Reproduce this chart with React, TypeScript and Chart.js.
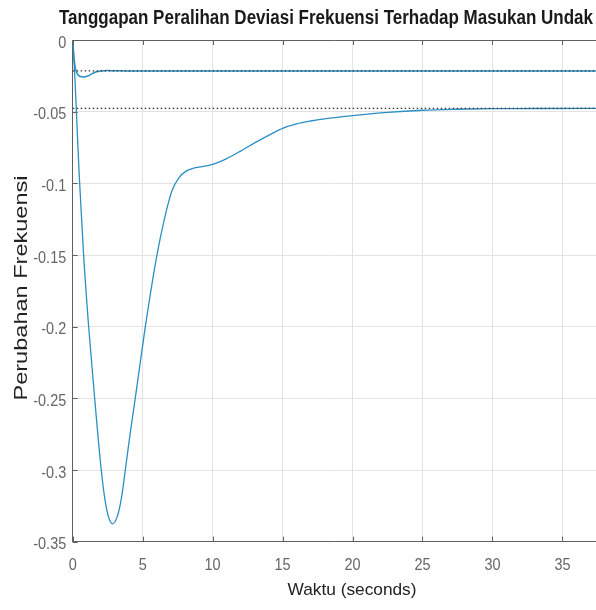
import { useEffect, useRef } from 'react';
import { Chart, registerables } from 'chart.js';

Chart.register(...registerables);

const TITLE = 'Tanggapan Peralihan Deviasi Frekuensi Terhadap Masukan Undak';
const X_TITLE = 'Waktu (seconds)';
const Y_TITLE = 'Perubahan Frekuensi';

const X_MIN = 0;
const X_MAX = 37.4;
const Y_MIN = -0.35;
const Y_MAX = 0;

const xTicks = [0, 5, 10, 15, 20, 25, 30, 35];
const yTicks = [0, -0.05, -0.1, -0.15, -0.2, -0.25, -0.3, -0.35];

// Large response
const timeBig = [0, 0.15, 0.3, 0.47, 0.78, 1.14, 1.57, 2.04, 2.3, 2.57, 2.85, 3.2, 3.5, 3.76, 4.1, 4.47, 5.19, 6.02, 6.6, 7.1, 7.6, 8.1, 8.6, 9.0, 10, 11, 12, 13, 14, 15, 16, 17, 18, 20, 22.5, 25, 27.5, 30, 33, 37.4];
const valuesBig = [0, -0.025, -0.058, -0.095, -0.15, -0.2, -0.25, -0.3, -0.3203, -0.333, -0.3375, -0.332, -0.3185, -0.3, -0.275, -0.25, -0.2, -0.15, -0.123, -0.105, -0.096, -0.0915, -0.0895, -0.0887, -0.0868, -0.0828, -0.0775, -0.0718, -0.0665, -0.0616, -0.0585, -0.0565, -0.055, -0.0528, -0.0505, -0.049, -0.0483, -0.0479, -0.0478, -0.0477];

// Small response
const timeSmall = [0, 0.1, 0.2, 0.35, 0.55, 0.8, 1.1, 1.4, 1.7, 2.0, 2.5, 3.0, 4.0, 37.4];
const valuesSmall = [0, -0.013, -0.02, -0.024, -0.0255, -0.0258, -0.025, -0.0235, -0.0222, -0.0216, -0.0213, -0.0215, -0.0216, -0.0216];

// Steady-state values (dotted)
const steadyStates = [-0.0216, -0.0477];

const BLUE = '#2a8fc4';
const SANS = '"Liberation Sans", Arial, sans-serif';

function fmt(v: number): string {
  const r = Math.round(v * 100) / 100;
  if (r === 0) return '0';
  return String(r);
}

function fitText(ctx: CanvasRenderingContext2D, text: string, x: number, y: number, targetW: number, rotate = 0) {
  const w = ctx.measureText(text).width;
  const s = targetW / w;
  ctx.save();
  ctx.translate(x, y);
  if (rotate) ctx.rotate(rotate);
  ctx.scale(s, 1);
  ctx.textAlign = 'center';
  ctx.textBaseline = 'alphabetic';
  ctx.fillText(text, 0, 0);
  ctx.restore();
}

function squeezed(ctx: CanvasRenderingContext2D, text: string, x: number, y: number, align: CanvasTextAlign, sx: number) {
  ctx.save();
  ctx.translate(x, y);
  ctx.scale(sx, 1);
  ctx.textAlign = align;
  ctx.textBaseline = 'alphabetic';
  ctx.fillText(text, 0, 0);
  ctx.restore();
}

const decorPlugin = {
  id: 'decor',
  beforeDraw(chart: any) {
    const ctx = chart.ctx;
    ctx.save();
    ctx.fillStyle = '#ffffff';
    ctx.fillRect(0, 0, chart.width, chart.height);
    ctx.restore();
  },
  afterDraw(chart: any) {
    const ctx: CanvasRenderingContext2D = chart.ctx;
    const { left, right, top, bottom } = chart.chartArea;
    const xs = chart.scales.x;
    const ys = chart.scales.y;
    ctx.save();
    ctx.strokeStyle = '#606060';
    ctx.lineWidth = 1;
    ctx.beginPath();
    ctx.moveTo(left, Math.round(top) + 0.5);
    ctx.lineTo(right, Math.round(top) + 0.5);
    for (const t of xs.ticks) {
      const px = Math.round(xs.getPixelForValue(t.value)) + 0.5;
      ctx.moveTo(px, bottom);
      ctx.lineTo(px, bottom - 5);
      ctx.moveTo(px, top);
      ctx.lineTo(px, top + 5);
    }
    for (const t of ys.ticks) {
      const py = Math.round(ys.getPixelForValue(t.value)) + 0.5;
      ctx.moveTo(left, py);
      ctx.lineTo(left + 5, py);
    }
    ctx.stroke();

    // tick labels from the scales' ticks
    ctx.fillStyle = '#666666';
    ctx.font = `17px ${SANS}`;
    for (const t of xs.ticks) {
      squeezed(ctx, String(t.value), xs.getPixelForValue(t.value), 569.5, 'center', 0.85);
    }
    for (const t of ys.ticks) {
      squeezed(ctx, fmt(t.value), left - 6.5, ys.getPixelForValue(t.value) + 7.5, 'right', 0.85);
    }

    ctx.fillStyle = '#1a1a1a';
    ctx.font = `bold 20px ${SANS}`;
    fitText(ctx, TITLE, 326, 24, 534);

    ctx.fillStyle = '#222222';
    ctx.font = `17px ${SANS}`;
    fitText(ctx, X_TITLE, 352, 595, 129);

    ctx.font = `19px ${SANS}`;
    fitText(ctx, Y_TITLE, 27, 288, 225, -Math.PI / 2);
    ctx.restore();
  },
};

export default function App() {
  const ref = useRef<HTMLCanvasElement>(null);
  useEffect(() => {
    document.body.style.margin = '0';
    const big = timeBig.map((t, i) => ({ x: t, y: valuesBig[i] }));
    const small = timeSmall.map((t, i) => ({ x: t, y: valuesSmall[i] }));
    const steadyDs = steadyStates.map((ss) => ({
      label: 'steady',
      data: [{ x: X_MIN, y: ss }, { x: X_MAX, y: ss }],
      borderColor: '#333333',
      borderWidth: 1.3,
      borderDash: [1.5, 2.5],
      pointRadius: 0,
      fill: false,
      tension: 0,
    }));
    const chart = new Chart(ref.current as HTMLCanvasElement, {
      type: 'line',
      data: {
        datasets: [
          ...steadyDs,
          { label: 'big', data: big, borderColor: BLUE, borderWidth: 1.3, pointRadius: 0, fill: false, cubicInterpolationMode: 'monotone' },
          { label: 'small', data: small, borderColor: BLUE, borderWidth: 1.5, pointRadius: 0, fill: false, cubicInterpolationMode: 'monotone' },
        ] as any,
      },
      options: {
        animation: false,
        responsive: false,
        devicePixelRatio: 1,
        layout: { padding: { top: 40, left: 0, right: 0, bottom: 0 } },
        plugins: { legend: { display: false }, tooltip: { enabled: false }, title: { display: false } },
        scales: {
          x: {
            type: 'linear',
            min: X_MIN,
            max: X_MAX,
            afterBuildTicks: (s: any) => { s.ticks = xTicks.map((v) => ({ value: v })); },
            afterFit: (s: any) => { s.height = 68.3; },
            grid: { color: '#e3e3e3', drawTicks: false, lineWidth: 1 },
            border: { display: true, color: '#606060', width: 1 },
            ticks: { display: false },
          },
          y: {
            type: 'linear',
            min: Y_MIN,
            max: Y_MAX,
            afterBuildTicks: (s: any) => { s.ticks = yTicks.map((v) => ({ value: v })); },
            afterFit: (s: any) => { s.width = 72.7; },
            grid: { color: '#e3e3e3', drawTicks: false, lineWidth: 1 },
            border: { display: true, color: '#606060', width: 1 },
            ticks: { display: false },
          },
        },
      } as any,
      plugins: [decorPlugin],
    });
    return () => chart.destroy();
  }, []);
  return (
    <div style={{ position: 'relative', width: 596, height: 610 }}>
      <canvas ref={ref} width={596} height={610} style={{ display: 'block' }} />
    </div>
  );
}
